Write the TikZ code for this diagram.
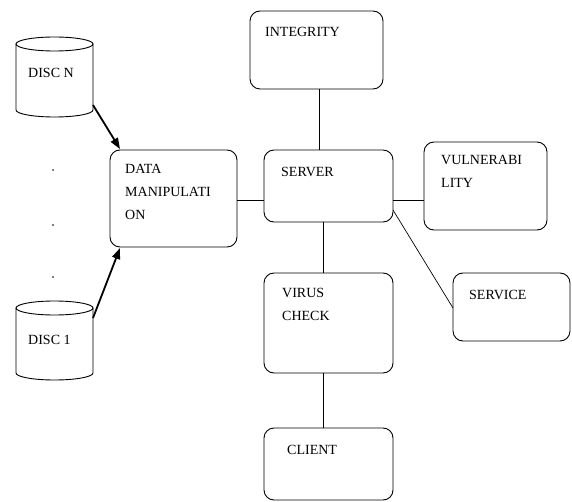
\documentclass[tikz,border=0pt]{standalone}
\usepackage{fontspec}
\setmainfont{Liberation Serif}
\usetikzlibrary{calc,arrows.meta}
\begin{document}
\begin{tikzpicture}[x=1pt,y=-1pt,
  box/.style={draw,rounded corners=10pt,line width=0.9pt,outer sep=0pt,inner sep=0pt,anchor=north west},
  lbl/.style={anchor=west,inner sep=0pt,font=\fontsize{14}{23}\selectfont,align=left},
  conn/.style={line width=0.9pt},
  thick arrow/.style={line width=1.8pt,-{Triangle[length=11pt,width=8pt]}},
  discstyle/.style={line width=0.9pt}]
\useasboundingbox (0,0) rectangle (572,502);
\fill[white] (0,0) rectangle (572,502);

% boxes
\node[box,minimum width=133pt,minimum height=78pt] (integrity) at (250,11) {};
\node[box,minimum width=129pt,minimum height=72pt] (server) at (264,150) {};
\node[box,minimum width=123pt,minimum height=88pt] (vuln) at (424,142) {};
\node[box,minimum width=127pt,minimum height=97pt] (data) at (110,150) {};
\node[box,minimum width=129pt,minimum height=100pt] (virus) at (264,273) {};
\node[box,minimum width=117pt,minimum height=68pt] (service) at (453,273) {};
\node[box,minimum width=129pt,minimum height=72pt] (client) at (264,428) {};

% labels
\node[lbl] (tintegrity) at (265,32) {INTEGRITY};
\node[lbl] (tserver) at (281,172) {SERVER};
\node[lbl,anchor=north west] (tvuln) at (441,155) {VULNERABI\\LITY};
\node[lbl,anchor=north west] (tdata) at (125,164) {DATA\\MANIPULATI\\ON};
\node[lbl,anchor=north west] (tvirus) at (282,288) {VIRUS\\CHECK};
\node[lbl] (tservice) at (469,295) {SERVICE};
\node[lbl] (tclient) at (287,450) {CLIENT};

% discs
\draw[discstyle] (54.5,44) ellipse[x radius=38.5,y radius=7];
\draw[discstyle] (16,44) -- (16,110) arc[start angle=180,end angle=0,x radius=38.5,y radius=7] -- (93,44);
\draw[discstyle] (54.5,308) ellipse[x radius=38.5,y radius=7];
\draw[discstyle] (16,308) -- (16,373) arc[start angle=180,end angle=0,x radius=38.5,y radius=7] -- (93,308);
\node[lbl] (tdiscn) at (28,73) {DISC N};
\node[lbl] (tdisc1) at (28,340) {DISC 1};
\coordinate (discn) at (93,105);
\coordinate (disc1) at (93,318);

% dots
\foreach \yy/\nm in {170/d1,225/d2,277/d3}
  \fill (53,\yy) circle[radius=0.9] coordinate (\nm);

% arrows
\draw[thick arrow] (discn) -- ($(data.north west)+(10,-1)$);
\draw[thick arrow] (disc1) -- ($(data.south west)+(10,1)$);

% connectors
\coordinate (iS) at ($(integrity.south west)+(69,0)$);
\draw[conn] (iS) -- (iS |- server.north);
\coordinate (dE) at ($(data.north east)+(0,50)$);
\draw[conn] (dE) -- (dE -| server.west);
\coordinate (sE) at ($(server.north east)+(0,50)$);
\draw[conn] (sE) -- (sE -| vuln.west);
\coordinate (sS) at ($(server.south west)+(59,0)$);
\draw[conn] (sS) -- (sS |- virus.north);
\coordinate (vS) at ($(virus.south west)+(59,0)$);
\draw[conn] (vS) -- (vS |- client.north);
\coordinate (sD) at ($(server.north east)+(0,60)$);
\coordinate (svW) at ($(service.north west)+(0,35)$);
\draw[line width=0.7pt] (sD) -- (svW);
\end{tikzpicture}
\end{document}
